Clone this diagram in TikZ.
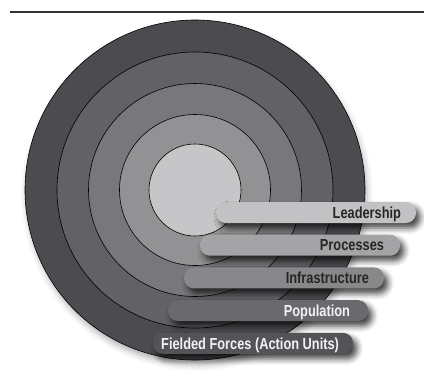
\documentclass[tikz,border=0pt]{standalone}
\usepackage{fontspec}
\setmainfont{Liberation Sans}[FakeStretch=0.8]
\usetikzlibrary{positioning,shadows.blur}
\definecolor{ringA}{HTML}{4C4C50}
\definecolor{ringB}{HTML}{626266}
\definecolor{ringC}{HTML}{78787C}
\definecolor{ringD}{HTML}{929295}
\definecolor{ringE}{HTML}{C6C6C8}
\definecolor{barA}{HTML}{545458}
\definecolor{barB}{HTML}{6A6A6E}
\definecolor{barC}{HTML}{88888B}
\definecolor{barD}{HTML}{A4A4A7}
\definecolor{barE}{HTML}{C2C2C5}
\tikzset{
    on grid,
    node distance=32.7pt,
    ring/.style = {
        draw=black,
        shape=circle,
        inner sep=0pt,
        line width=0.6pt
    },
    bar/.style = {
        shape=rectangle,
        rounded corners=10pt,
        minimum width=200pt,
        minimum height=21pt,
        inner sep=0pt,
        blur shadow={shadow xshift=4pt, shadow yshift=-5pt,
            shadow blur radius=6pt, shadow opacity=75}
    },
    barlabel/.style = {
        anchor=east,
        inner sep=0pt,
        text height=11.5pt,
        text depth=0pt,
        font=\fontsize{16}{19}\selectfont\bfseries
    },
}

\begin{document}
\begin{tikzpicture}[x=1pt,y=-1pt]
        \useasboundingbox (0,0) rectangle (424,378);
        \draw[line width=1.8pt, black!80] (10,12) -- (424,12);

        \node[ring, fill=ringA, minimum size=340pt,
            blur shadow={shadow xshift=2pt, shadow yshift=-5pt,
            shadow blur radius=6pt, shadow opacity=30}] (forces) at (195,190) {};
        \node[ring, fill=ringB, minimum size=276pt] (population) at (forces) {};
        \node[ring, fill=ringC, minimum size=213pt] (infra) at (forces) {};
        \node[ring, fill=ringD, minimum size=151pt] (processes) at (forces) {};
        \node[ring, fill=ringE, minimum size=92pt] (leadership) at (forces) {};

        \node[bar, fill=barE] (leaderbar) at (316,212.5) {};
        \node[bar, fill=barD, below of=leaderbar, xshift=-16pt] (processbar) {};
        \node[bar, fill=barC, below of=processbar, xshift=-16pt] (infrabar) {};
        \node[bar, fill=barB, below of=infrabar, xshift=-16pt] (popbar) {};
        \node[bar, fill=barA, below of=popbar, xshift=-15pt] (forcebar) {};

        \node[barlabel, text=black!85] (leadertext) at ([xshift=-15pt]leaderbar.east) {Leadership};
        \node[barlabel, text=black!85] (processtext) at ([xshift=-16pt]processbar.east) {Processes};
        \node[barlabel, text=black!85] (infratext) at ([xshift=-15pt]infrabar.east) {Infrastructure};
        \node[barlabel, text=white!95!black] (poptext) at ([xshift=-18pt]popbar.east) {Population};
        \node[barlabel, text=white!95!black] (forcetext) at ([xshift=-14pt]forcebar.east) {Fielded Forces (Action Units)};
    \end{tikzpicture}
\end{document}
